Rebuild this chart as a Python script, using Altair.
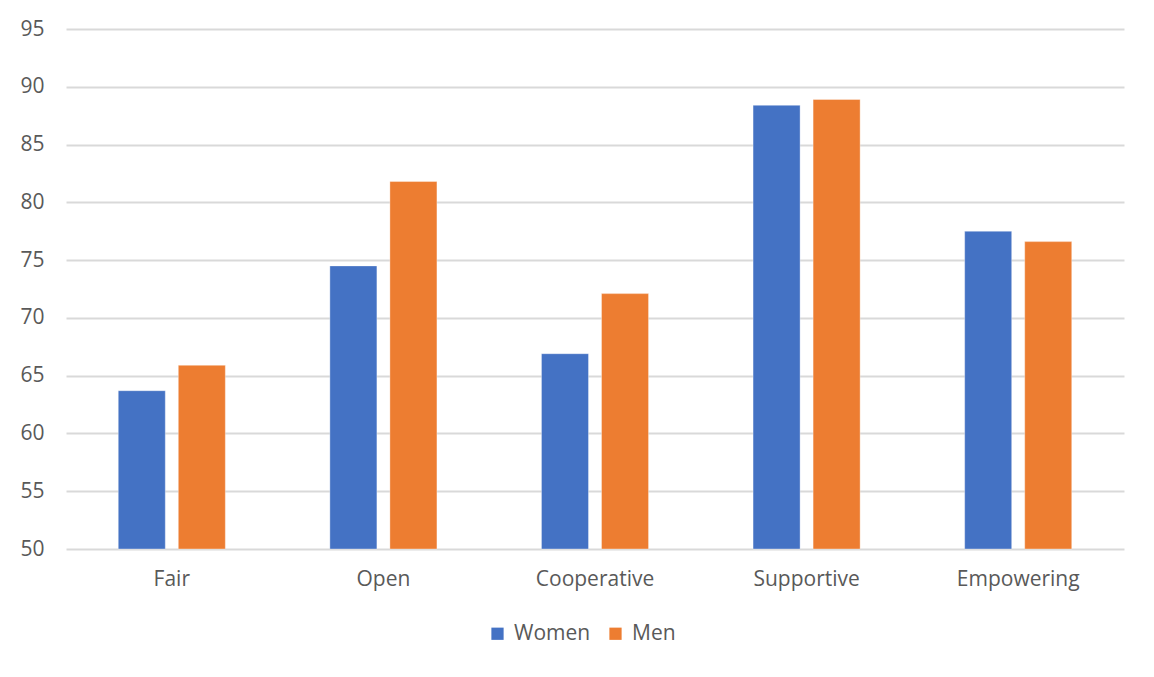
import altair as alt
import pandas as pd

categories = ["Fair", "Open", "Cooperative", "Supportive", "Empowering"]
women = [63.7, 74.5, 66.9, 88.4, 77.5]
men = [65.9, 81.8, 72.1, 88.9, 76.6]
series = ["Women", "Men"]
colors = ["#4472C4", "#ED7D31"]
y_ticks = [50, 55, 60, 65, 70, 75, 80, 85, 90, 95]

rows = []
for c, w, m in zip(categories, women, men):
    rows.append({"category": c, "series": "Women", "value": w})
    rows.append({"category": c, "series": "Men", "value": m})
df = pd.DataFrame(rows)

FONT = "Open Sans"
FS = 21

chart = alt.Chart(df).mark_bar(stroke="white", strokeWidth=0.6, strokeOpacity=0.6).encode(
    x=alt.X("category:N", sort=categories, title=None,
            scale=alt.Scale(paddingInner=0.494, paddingOuter=0.247),
            axis=alt.Axis(labelAngle=0, ticks=False, domain=False, labelPadding=19,
                          labelFontSize=FS, labelColor="#595959", labelFont=FONT)),
    xOffset=alt.XOffset("series:N", sort=series,
                        scale=alt.Scale(paddingInner=0.2167, paddingOuter=0)),
    y=alt.Y("value:Q", title=None,
            scale=alt.Scale(domain=[50, 95], nice=False, zero=False, clamp=True),
            axis=alt.Axis(values=y_ticks, ticks=False, domain=False, labelPadding=22,
                          labelFontSize=FS, labelColor="#595959", labelFont=FONT,
                          gridColor="#d9d9d9", gridWidth=2)),
    color=alt.Color("series:N", sort=series, title=None,
                    scale=alt.Scale(domain=series, range=colors),
                    legend=alt.Legend(orient="none", legendX=421, legendY=594,
                                      direction="horizontal", symbolType="square",
                                      symbolSize=150, symbolStrokeWidth=0,
                                      labelFontSize=FS, labelColor="#595959", labelFont=FONT,
                                      columnPadding=14, labelOffset=6)),
).properties(
    width=1058, height=520,
    autosize=alt.AutoSizeParams(type="none"),
    padding={"left": 58, "top": 21, "right": 22, "bottom": 120},
).configure(background="white").configure_view(strokeWidth=0)

chart.save("out.html", embed_options={"renderer": "svg", "actions": False})
